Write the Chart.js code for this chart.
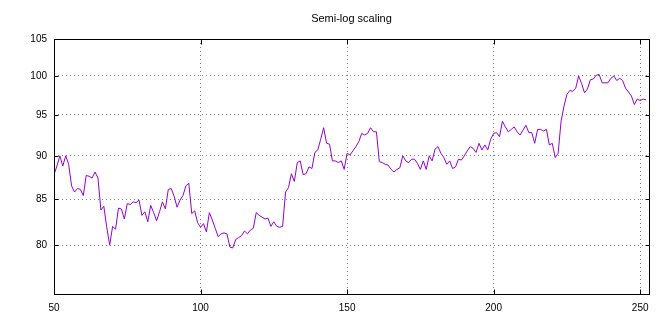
<!DOCTYPE html>
<html>
<head>
<meta charset="utf-8">
<script src="https://cdn.jsdelivr.net/npm/chart.js@4.4.1/dist/chart.umd.min.js"></script>
<style>
  html, body { margin: 0; padding: 0; background: #fff; }
  #wrap { width: 660px; height: 320px; }
</style>
</head>
<body>
<div id="wrap"><canvas id="chart" width="660" height="320"></canvas></div>
<script>
// Données du graphique
const chartTitle = 'Semi-log scaling';
const xStart = 50;
const values = [
  87.8, 88.8, 90.0, 88.8, 90.0, 89.0, 86.5, 85.8, 86.2, 86.1,
  85.4, 87.7, 87.6, 87.4, 88.1, 87.4, 83.8, 84.2, 81.9, 80.0,
  82.0, 81.7, 84.0, 83.9, 82.8, 84.5, 84.4, 84.7, 84.6, 84.9,
  83.2, 83.6, 82.5, 84.3, 83.5, 82.6, 83.6, 84.7, 83.9, 86.1,
  86.2, 85.3, 84.1, 84.9, 85.4, 86.5, 86.8, 83.4, 83.7, 82.4,
  81.9, 82.3, 81.4, 83.5, 82.7, 81.8, 80.9, 81.2, 81.3, 81.2,
  79.8, 79.7, 80.6, 80.8, 81.0, 81.5, 81.2, 81.6, 81.8, 83.5,
  83.2, 83.0, 82.8, 82.9, 82.0, 82.5, 82.0, 81.9, 82.0, 85.8,
  86.3, 87.9, 87.0, 89.2, 89.4, 87.8, 87.9, 88.7, 88.5, 90.4,
  90.7, 92.0, 93.4, 91.5, 91.4, 89.4, 89.4, 89.2, 89.4, 88.4,
  90.3, 90.1, 90.6, 91.1, 91.7, 92.7, 92.5, 92.7, 93.4, 92.9,
  92.9, 89.3, 89.2, 89.0, 88.9, 88.4, 88.1, 88.4, 88.6, 90.0,
  89.4, 89.2, 89.6, 89.6, 89.1, 88.4, 89.4, 88.4, 90.0, 89.4,
  90.8, 91.1, 90.3, 89.8, 89.0, 89.4, 88.5, 88.7, 89.6, 89.5,
  90.0, 90.6, 91.1, 90.9, 90.4, 91.5, 90.7, 91.3, 90.7, 92.0,
  92.7, 92.8, 92.3, 94.2, 93.5, 92.9, 93.2, 93.5, 92.9, 92.5,
  93.1, 93.7, 92.8, 92.8, 91.5, 93.2, 93.2, 93.0, 93.2, 91.3,
  91.5, 89.8, 90.3, 94.2, 96.1, 97.6, 98.1, 98.0, 98.4, 100.0,
  99.0, 97.8, 98.3, 99.5, 99.6, 100.1, 100.2, 99.1, 99.1, 99.1,
  99.7, 100.0, 99.4, 99.7, 99.4, 98.4, 97.9, 97.4, 96.3, 97.0,
  96.8, 97.0, 96.9
];
const xTicks = [50, 100, 150, 200, 250];
const yTicks = [80, 85, 90, 95, 100, 105];
const xMin = 50, xMax = 253;
const yMin = 75, yMax = 105;

const fontFamily = '"Liberation Sans", Arial, sans-serif';

// Cadre, graduations intérieures et titre, à la manière de gnuplot
const framePlugin = {
  id: 'frame',
  afterDraw(chart) {
    const { ctx, chartArea: a, scales } = chart;
    const l = Math.round(a.left) + 0.5, r = Math.round(a.right) + 0.5;
    const t = Math.round(a.top) + 0.5, b = Math.round(a.bottom) + 0.5;
    ctx.save();
    ctx.strokeStyle = '#000';
    ctx.lineWidth = 1;
    ctx.setLineDash([]);
    ctx.strokeRect(l, t, r - l, b - t);
    ctx.beginPath();
    xTicks.forEach(v => {
      const px = Math.round(scales.x.getPixelForValue(v)) + 0.5;
      ctx.moveTo(px, b); ctx.lineTo(px, b - 5);
      ctx.moveTo(px, t); ctx.lineTo(px, t + 5);
    });
    yTicks.forEach(v => {
      const py = Math.round(scales.y.getPixelForValue(v)) + 0.5;
      ctx.moveTo(l, py); ctx.lineTo(l + 4, py);
      ctx.moveTo(r, py); ctx.lineTo(r - 4, py);
    });
    ctx.stroke();
    ctx.fillStyle = '#000';
    ctx.font = '11px ' + fontFamily;
    ctx.textAlign = 'center';
    ctx.textBaseline = 'middle';
    ctx.fillText(chartTitle, (a.left + a.right) / 2, 19);
    ctx.restore();
  }
};

const gridOpts = { color: '#808080', lineWidth: 1, drawTicks: false };
const tickFont = { family: fontFamily, size: 10 };

new Chart(document.getElementById('chart'), {
  type: 'line',
  data: {
    datasets: [{
      data: values.map((v, i) => ({ x: xStart + i, y: v })),
      borderColor: '#9400d3',
      borderWidth: 1,
      pointRadius: 0,
      fill: false,
      tension: 0
    }]
  },
  options: {
    responsive: false,
    animation: false,
    devicePixelRatio: 1,
    layout: { padding: { top: 39, right: 11, left: 0, bottom: 0 } },
    plugins: {
      legend: { display: false },
      title: { display: false },
      tooltip: { enabled: false }
    },
    scales: {
      x: {
        type: 'linear',
        min: xMin,
        max: xMax,
        afterBuildTicks: s => { s.ticks = xTicks.map(v => ({ value: v })); },
        afterFit: s => { s.height = 26; },
        grid: gridOpts,
        border: { display: false, dash: [1, 3] },
        ticks: { color: '#000', font: tickFont, padding: 8, maxRotation: 0, autoSkip: false }
      },
      y: {
        type: 'logarithmic',
        min: yMin,
        max: yMax,
        afterBuildTicks: s => { s.ticks = yTicks.map(v => ({ value: v })); },
        afterFit: s => { s.width = 54; },
        grid: gridOpts,
        border: { display: false, dash: [1, 3] },
        ticks: { color: '#000', font: tickFont, padding: 7, callback: v => String(v) }
      }
    }
  },
  plugins: [framePlugin]
});
</script>
</body>
</html>
